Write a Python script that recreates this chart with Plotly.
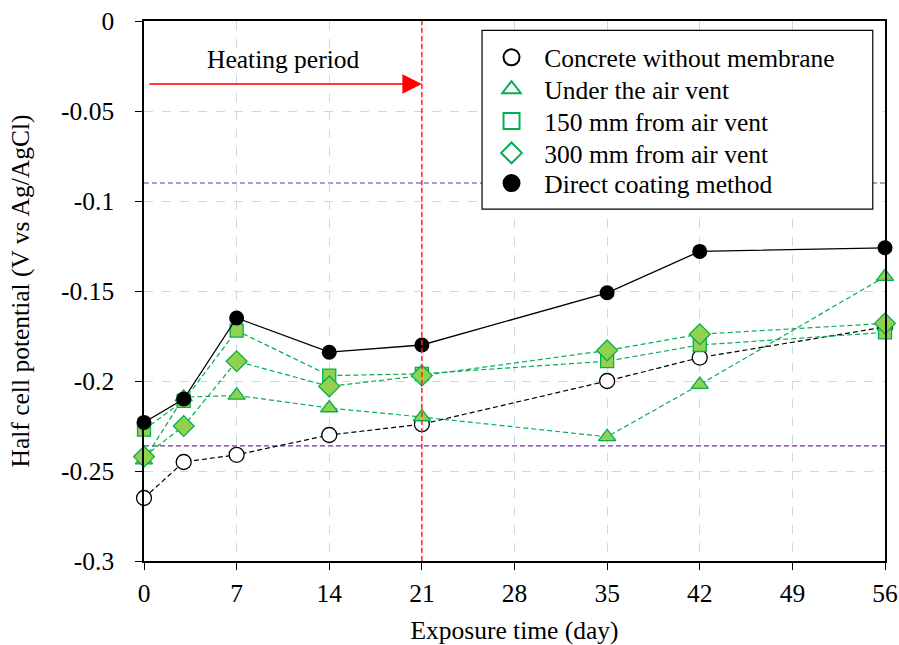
import plotly.graph_objects as go

days = [0, 3, 7, 14, 21, 35, 42, 56]
concrete = [-0.265, -0.245, -0.241, -0.230, -0.224, -0.200, -0.187, -0.170]
under_vent = [-0.244, -0.209, -0.208, -0.215, -0.220, -0.231, -0.202, -0.142]
mm150 = [-0.227, -0.211, -0.172, -0.197, -0.196, -0.189, -0.180, -0.173]
mm300 = [-0.242, -0.225, -0.189, -0.203, -0.197, -0.183, -0.174, -0.168]
direct = [-0.223, -0.210, -0.165, -0.184, -0.180, -0.151, -0.128, -0.126]

names = ["Concrete without membrane", "Under the air vent", "150 mm from air vent",
         "300 mm from air vent", "Direct coating method"]

x_ticks = [0, 7, 14, 21, 28, 35, 42, 49, 56]
y_tick_vals = [0, -0.05, -0.1, -0.15, -0.2, -0.25, -0.3]
y_tick_text = ["0", "-0.05", "-0.1", "-0.15", "-0.2", "-0.25", "-0.3"]

heating_end = 21
threshold_lines = [-0.09, -0.236]
arrow_y = -0.035

FONT = "Liberation Serif, Times New Roman, serif"
FS = 25.5
GREEN_LINE = "#00b050"
GREEN_FILL = "#92d050"
DASH = "5px,3px"

fig = go.Figure()

fig.add_trace(go.Scatter(x=days, y=concrete, mode="lines+markers", showlegend=False,
                         line=dict(color="black", width=1.2, dash=DASH),
                         marker=dict(symbol="circle", size=15, color="white",
                                     line=dict(color="black", width=1.3)),
                         cliponaxis=False))
for vals, sym, sz in [(under_vent, "triangle-up", 15), (mm150, "square", 13), (mm300, "diamond", 16)]:
    fig.add_trace(go.Scatter(x=days, y=vals, mode="lines+markers", showlegend=False,
                             line=dict(color=GREEN_LINE, width=1.2, dash=DASH),
                             marker=dict(symbol=sym, size=sz, color=GREEN_FILL,
                                         line=dict(color=GREEN_LINE, width=1.3)),
                             cliponaxis=False))
fig.add_trace(go.Scatter(x=days, y=direct, mode="lines+markers", showlegend=False,
                         line=dict(color="black", width=1.3),
                         marker=dict(symbol="circle", size=15, color="black"),
                         cliponaxis=False))

# legend entries (hollow symbols as in the reference legend), one legend per row
leg_styles = [("circle-open", "black"), ("triangle-up-open", GREEN_LINE),
              ("square-open", GREEN_LINE), ("diamond-open", GREEN_LINE), ("circle", "black")]
row_y = [0.932, 0.873, 0.814, 0.755, 0.699]
legend_layout = {}
for i, (name, (sym, col)) in enumerate(zip(names, leg_styles)):
    key = "legend" if i == 0 else f"legend{i + 1}"
    fig.add_trace(go.Scatter(x=[None], y=[None], mode="markers", name="\u00a0\u00a0" + name,
                             legend=key,
                             marker=dict(symbol=sym, size=18, color=col,
                                         line=dict(color=col, width=2))))
    legend_layout[key] = dict(x=0.469, xanchor="left", y=row_y[i], yanchor="middle",
                              bgcolor="rgba(0,0,0,0)", borderwidth=0,
                              font=dict(family=FONT, size=FS, color="black"))

for yv in threshold_lines:
    fig.add_shape(type="line", xref="paper", x0=0, x1=1, yref="y", y0=yv, y1=yv,
                  line=dict(color="#7030a0", width=1.2, dash=DASH), layer="below")

fig.add_shape(type="line", xref="x", x0=heating_end, x1=heating_end, yref="paper", y0=0, y1=1,
              line=dict(color="#ff2020", width=1.5, dash=DASH), layer="above")

# legend box
fig.add_shape(type="rect", xref="paper", yref="paper", x0=0.4562, x1=0.9835, y0=0.6515, y1=0.9828,
              fillcolor="white", line=dict(color="black", width=1.2), layer="above")

fig.add_annotation(x=heating_end, y=arrow_y, ax=0.3, ay=arrow_y, xref="x", yref="y",
                   axref="x", ayref="y", text="", showarrow=True, arrowhead=2,
                   arrowsize=3, arrowwidth=1.3, arrowcolor="#ff0000", standoff=0)
fig.add_annotation(x=10.5, y=-0.0215, xref="x", yref="y", text="Heating period",
                   showarrow=False, font=dict(family=FONT, size=FS, color="black"))

fig.update_xaxes(range=[0, 56], tickvals=x_ticks, showline=True, linecolor="black", linewidth=1.5,
                 mirror=True, ticks="outside", ticklen=7, tickcolor="black", tickwidth=1.2,
                 showgrid=True, gridcolor="#c6d9f1", griddash="dash", gridwidth=1, zeroline=False,
                 automargin=False, ticklabelstandoff=2, ticklabeloverflow="allow",
                 tickfont=dict(family=FONT, size=FS, color="black"),
                 title=dict(text="Exposure time (day)", font=dict(family=FONT, size=FS, color="black"),
                            standoff=16))
fig.update_yaxes(range=[-0.3, 0], tickvals=y_tick_vals, ticktext=y_tick_text, showline=True,
                 linecolor="black", linewidth=1.5, mirror=True, ticks="outside", ticklen=7,
                 tickcolor="black", tickwidth=1.2, showgrid=True, gridcolor="#c6d9f1", griddash="dash",
                 gridwidth=1, zeroline=False, automargin=False, ticklabelstandoff=16,
                 ticklabeloverflow="allow",
                 tickfont=dict(family=FONT, size=FS, color="black"),
                 title=dict(text="Half cell potential (V vs Ag/AgCl)",
                            font=dict(family=FONT, size=FS, color="black"), standoff=24))

fig.update_layout(width=899, height=645, margin=dict(l=144, r=14, t=21, b=84),
                  plot_bgcolor="white", paper_bgcolor="white",
                  font=dict(family=FONT, size=FS, color="black"),
                  **legend_layout)

# remove the default page margin so the figure fills the 899x645 window exactly
fig.write_html("out.html", config={"displayModeBar": False},
               post_script="document.body.style.margin='0';document.body.style.overflow='hidden';")
